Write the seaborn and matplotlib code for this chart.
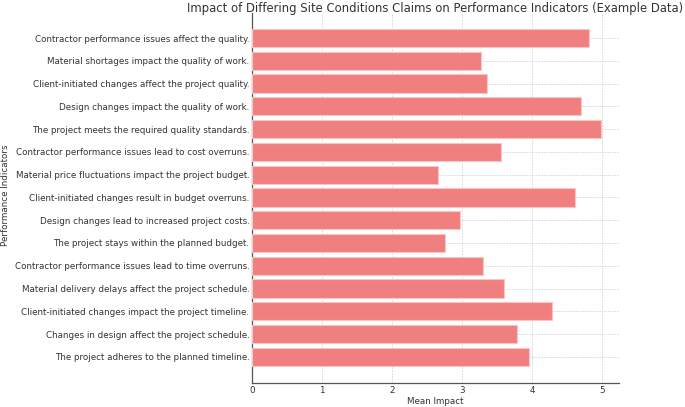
import matplotlib
matplotlib.use("Agg")
import matplotlib.pyplot as plt
import seaborn as sns
import pandas as pd

indicators = [
    "Contractor performance issues affect the quality.",
    "Material shortages impact the quality of work.",
    "Client-initiated changes affect the project quality.",
    "Design changes impact the quality of work.",
    "The project meets the required quality standards.",
    "Contractor performance issues lead to cost overruns.",
    "Material price fluctuations impact the project budget.",
    "Client-initiated changes result in budget overruns.",
    "Design changes lead to increased project costs.",
    "The project stays within the planned budget.",
    "Contractor performance issues lead to time overruns.",
    "Material delivery delays affect the project schedule.",
    "Client-initiated changes impact the project timeline.",
    "Changes in design affect the project schedule.",
    "The project adheres to the planned timeline.",
]
mean_impact = [4.81, 3.27, 3.35, 4.70, 4.99, 3.56, 2.65, 4.61, 2.97, 2.76,
               3.30, 3.60, 4.28, 3.78, 3.96]
x_ticks = [0, 1, 2, 3, 4, 5]

df = pd.DataFrame({"Performance Indicators": indicators, "Mean Impact": mean_impact})

sns.set_style("white")
plt.rcParams['font.family'] = ['DejaVu Sans']
text_col = "#333333"

fig = plt.figure(figsize=(6.85, 4.07), dpi=100)
ax = fig.add_axes([252/685, 1-383/407, (619-252)/685, (383-13)/407])

sns.barplot(data=df, y="Performance Indicators", x="Mean Impact", orient="h",
            color="#F08080", saturation=1, width=0.8, edgecolor="#f8c4c4",
            linewidth=0.8, ax=ax, zorder=3)

ax.set_xlim(0, 5.24)
ax.set_ylim(15.15, -1.1)
ax.set_xticks(x_ticks)
ax.grid(True, color="#d4d4d4", linestyle=(0, (2, 1.5)), linewidth=0.6, zorder=0)
ax.set_axisbelow(True)
for s in ["top", "right"]:
    ax.spines[s].set_visible(False)
for s in ["left", "bottom"]:
    ax.spines[s].set_color("#555555")
    ax.spines[s].set_linewidth(0.9)
ax.tick_params(axis="both", labelsize=6.35, colors=text_col, length=1.2, width=0.6)
ax.tick_params(axis="y", color="#555555", pad=0.6)
ax.tick_params(axis="x", color="#555555", pad=0.8)
ax.set_xlabel("Mean Impact", fontsize=6.35, color=text_col)
ax.set_ylabel("Performance Indicators", fontsize=6.35, color=text_col)
ax.xaxis.set_label_coords((435.5-252)/367, (383-401)/370)
ax.yaxis.set_label_coords((6-252)/367, (383-195)/370)
ax.xaxis.label.set_va("center")
ax.yaxis.label.set_va("center")
ax.set_title("Impact of Differing Site Conditions Claims on Performance Indicators (Example Data)",
             fontsize=8.4, color=text_col, pad=0.5)

fig.savefig("out.png", dpi=100)
